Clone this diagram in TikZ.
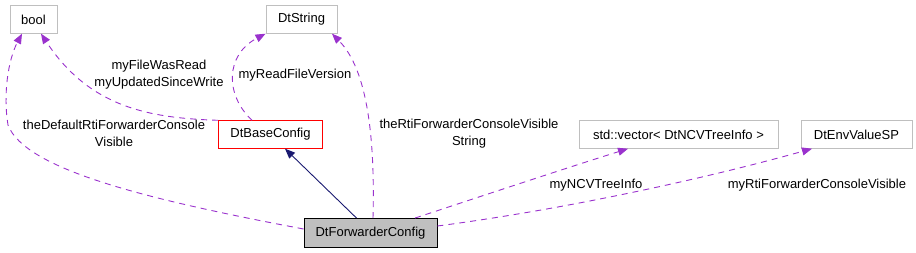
\documentclass[tikz,border=0pt]{standalone}
\usepackage{fontspec}
\setmainfont{Liberation Sans}
\usetikzlibrary{arrows.meta}
\definecolor{edgepurple}{HTML}{9A32CD}
\definecolor{navyedge}{HTML}{191970}
\definecolor{boxgray}{HTML}{BFBFBF}
\tikzset{
  cls/.style={draw=boxgray, line width=0.9pt, fill=white, inner sep=0pt, minimum height=27.5pt, font=\fontsize{13}{17}\selectfont},
  mainbox/.style={cls, draw=black, fill=boxgray, minimum height=29pt},
  basebox/.style={cls, draw=red},
  usage/.style={draw=edgepurple, line width=0.9pt, dash pattern=on 6pt off 5pt, -{Triangle[length=10pt,width=8pt,fill=edgepurple]}},
  inherit/.style={draw=navyedge, line width=0.9pt, -{Triangle[length=10pt,width=8pt,fill=navyedge]}},
  lbl/.style={align=center, inner sep=0pt, font=\fontsize{13}{17}\selectfont}
}
\begin{document}
\begin{tikzpicture}[x=1pt,y=-1pt]
\useasboundingbox (0,0) rectangle (916,253);
% nodes
\node[cls, minimum width=47pt] (bool) at (33.5,19.5) {bool};
\node[cls, minimum width=71pt] (dtstring) at (301.5,19.5) {DtString};
\node[basebox, minimum width=104pt] (base) at (270.5,134.5) {DtBaseConfig};
\node[cls, minimum width=199pt] (vec) at (678.5,134.5) {std::vector< DtNCVTreeInfo >};
\node[cls, minimum width=111pt] (env) at (856.5,134.5) {DtEnvValueSP};
\node[mainbox, minimum width=133pt] (fwd) at (370.5,233) {DtForwarderConfig};
% edges
\draw[inherit] ([xshift=-14pt]fwd.north) -- ([xshift=14.5pt]base.south);
\draw[usage] (base.north west) .. controls (150,118) and (90,108) .. ([xshift=7.5pt]bool.south);
\draw[usage] ([yshift=4pt]fwd.west) .. controls (150,200) and (25,170) .. (8,125)
   .. controls (3,95) and (8,60) .. ([xshift=-11.5pt]bool.south);
\draw[usage] ([xshift=-18.5pt]base.north) .. controls (225,95) and (225,55) .. (dtstring.south west);
\draw[usage] ([xshift=2.5pt]fwd.north) .. controls (375,140) and (368,70) .. ([xshift=30.5pt]dtstring.south);
\draw[usage] ([xshift=44.5pt]fwd.north) .. controls (470,200) and (560,170) .. ([xshift=-50.5pt]vec.south);
\draw[usage] ([yshift=7pt]fwd.east) .. controls (560,210) and (700,180) .. ([xshift=-44.5pt]env.south);
% labels
\node[lbl] (l1) at (159,75) {myFileWasRead\\myUpdatedSinceWrite};
\node[lbl] (l2) at (114,133.5) {theDefaultRtiForwarderConsole\\Visible};
\node[lbl] (l3) at (295,75) {myReadFileVersion};
\node[lbl] (l4) at (469,134) {theRtiForwarderConsoleVisible\\String};
\node[lbl] (l5) at (596,185) {myNCVTreeInfo};
\node[lbl] (l6) at (817,185) {myRtiForwarderConsoleVisible};
\end{tikzpicture}
\end{document}
